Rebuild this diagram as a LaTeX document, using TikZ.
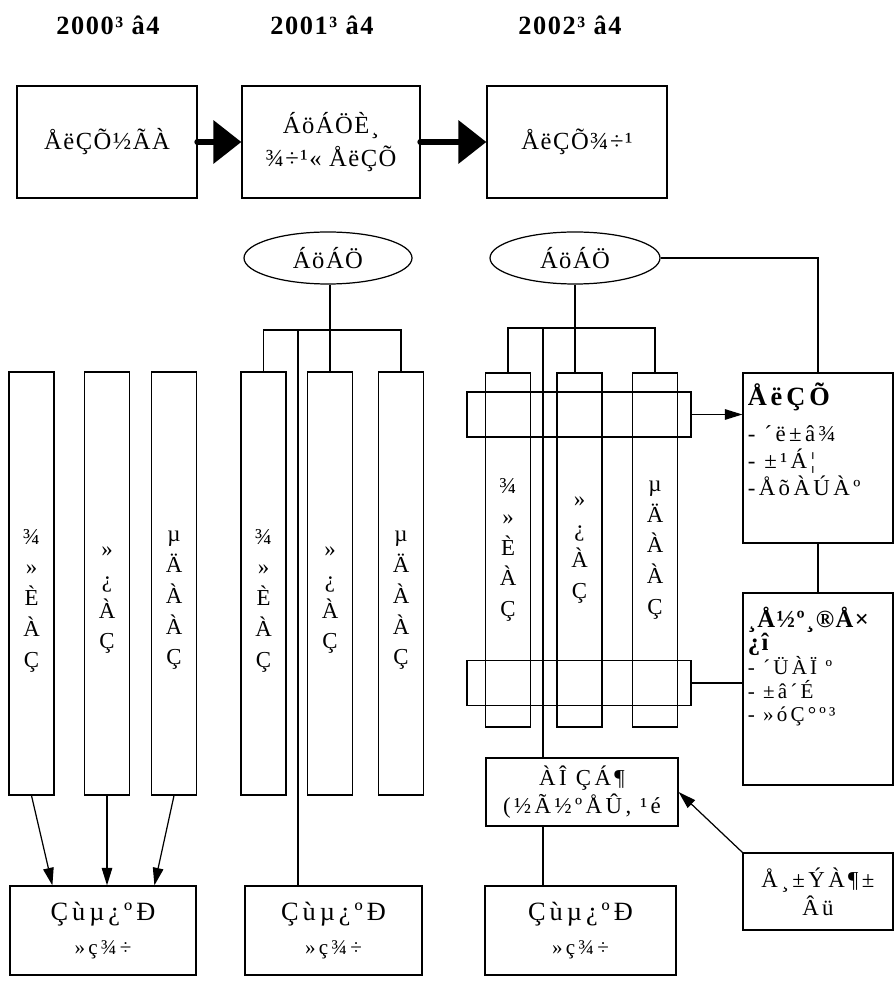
\documentclass[tikz,border=0pt]{standalone}
\usepackage{fontspec}
\setmainfont{Liberation Serif}[LetterSpace=6]
\usetikzlibrary{shapes.geometric, arrows.meta, positioning, calc}
\newcommand{\widesp}{\addfontfeature{LetterSpace=15}}
\tikzset{
  boxed/.style 2 args={draw, rectangle, line width=0.7pt, inner sep=0pt, align=center, minimum width=#1*0.02cm, minimum height=#2*0.02cm},
  stepnode/.style={boxed={180}{112}, font=\fontsize{14}{19}\selectfont},
  colbox/.style={boxed={45}{423}},
  rcolbox/.style={boxed={45}{354}},
  bandbox/.style={boxed={224}{45}},
  sidebox/.style={boxed={150}{#1}},
  coopbox/.style={boxed={#1}{89}, font=\fontsize{15}{19}\selectfont\widesp},
  coltext/.style={align=center, font=\fontsize{13}{17.5}\selectfont},
  sidetext/.style={anchor=north west, align=left, inner sep=0pt},
  corpnode/.style={ellipse, draw, line width=0.7pt, inner sep=0pt, minimum width=168*0.02cm, minimum height=52*0.02cm, font=\fontsize{14}{15}\selectfont},
  yrnode/.style={font=\bfseries\fontsize{15}{17}\selectfont},
  link/.style={line width=0.7pt},
  tarrow/.style={link, -{Triangle[length=10pt,width=6pt]}},
  bigarrow/.style={line width=3.8pt, line cap=round, -{Triangle[length=16pt,width=24pt]}},
}

\begin{document}
\begin{tikzpicture}[x=0.02cm, y=-0.02cm, every node/.style={font=\fontsize{12}{15}\selectfont}]
  \useasboundingbox (0,0) rectangle (894,982);

  % years
  \node[yrnode] (y0) at (108,25) {2000³ â4};
  \node[yrnode] (y1) at (322,25) {2001³ â4};
  \node[yrnode] (y2) at (570,25) {2002³ â4};

  % steps
  \node[stepnode] (s0) at (107,142) {ÅëÇÕ½ÃÀ};
  \node[stepnode, minimum width=178*0.02cm] (s1) at (331,142) {ÁöÁÖÈ¸\\¾÷¹« ÅëÇÕ};
  \node[stepnode] (s2) at (577,142) {ÅëÇÕ¾÷¹};
  \draw[bigarrow] (s0.east) -- (s1.west);
  \draw[bigarrow] (s1.east) -- (s2.west);

  % 2000 columns
  \node[colbox] (la) at (31.5,583.5) {};
  \node[colbox] (lb) at (107,583.5) {};
  \node[colbox] (lc) at (174,583.5) {};
  \node[coltext] (la-t) at ($(la)+(0,17)$) {¾\\»\\È\\À\\Ç};
  \node[coltext] (lb-t) at ($(lb)+(0,17)$) {»\\¿\\À\\Ç};
  \node[coltext] (lc-t) at ($(lc)+(0,17)$) {µ\\Ä\\À\\À\\Ç};

  % 2001 holding
  \node[corpnode] (e1) at (328,258) {ÁöÁÖ};
  \node[colbox] (ma) at (263.5,583.5) {};
  \node[colbox] (mb) at (330,583.5) {};
  \node[colbox] (mc) at (401,583.5) {};
  \node[coltext] (ma-t) at ($(ma)+(0,17)$) {¾\\»\\È\\À\\Ç};
  \node[coltext] (mb-t) at ($(mb)+(0,17)$) {»\\¿\\À\\Ç};
  \node[coltext] (mc-t) at ($(mc)+(0,17)$) {µ\\Ä\\À\\À\\Ç};
  \coordinate (mbl) at (263.5,330);
  \coordinate (mbr) at (401,330);
  \coordinate (mlong) at (298,330);
  \draw[link] (ma.north) -- (mbl) -- (mbr) -- (mc.north);
  \draw[link] (mb.north) -- (mb.north |- e1.south);

  % 2002 holding
  \node[corpnode, minimum width=170*0.02cm] (e2) at (575,258) {ÁöÁÖ};
  \node[rcolbox] (ra) at (508,550) {};
  \node[rcolbox] (rb) at (579.5,550) {};
  \node[rcolbox] (rc) at (655,550) {};
  \node[coltext] (ra-t) at (ra) {¾\\»\\È\\À\\Ç};
  \node[coltext] (rb-t) at (rb) {»\\¿\\À\\Ç};
  \node[coltext] (rc-t) at (rc) {µ\\Ä\\À\\À\\Ç};
  \coordinate (rbl) at (508,328);
  \coordinate (rbr) at (655,328);
  \coordinate (rlong) at (543,328);
  \draw[link] (ra.north) -- (rbl) -- (rbr) -- (rc.north);
  \draw[link] (e2.south) -- (e2.south |- rb.north);
  \node[bandbox] (o1) at (579,414.5) {};
  \node[bandbox] (o2) at (579,683) {};

  % side boxes
  \node[sidebox=170] (rb1) at (818,458) {};
  \node[sidetext, font=\fontsize{13}{15.5}\selectfont\widesp] (rb1-t) at ($(rb1.north west)+(5,10)$)
    {{\fontsize{15}{17}\selectfont\bfseries ÅëÇÕ}\\[5pt]- ´ë±â¾\\- ±¹Á¦\\-ÅõÀÚÀº};
  \node[sidebox=192] (rb2) at (818,689) {};
  \node[sidetext, font=\fontsize{12}{13.5}\selectfont] (rb2-t) at ($(rb2.north west)+(5,14)$)
    {{\fontsize{14}{13.5}\selectfont\bfseries ¸Å½º¸®Å×}\\{\fontsize{14}{13.5}\selectfont\bfseries ¿î}\\{\widesp - ´ÜÀÏ º}\\{\widesp - ±â´É}\\{\widesp - »óÇ°º³}};
  \node[boxed={192}{68}, font=\fontsize{13}{16}\selectfont\widesp] (mid) at (582,792) {ÀÎ ÇÁ¶\\(½Ã½ºÅÛ, ¹é};
  \node[sidebox=77, font=\fontsize{13}{16}\selectfont\widesp] (rb3) at (818,891.5) {Å¸±ÝÀ¶±\\Âü};

  \draw[link] (e2.east) -| (rb1.north);
  \draw[link] (rb1.south) -- (rb2.north);
  \draw[tarrow] (o1.east) -- (o1.east -| rb1.west);
  \draw[link] (o2.east) -- (o2.east -| rb2.west);
  \draw[link] (rlong) -- (rlong |- mid.north);
  \draw[tarrow] (rb3.north west) -- (mid.east);

  % cooperation boxes
  \node[coopbox=186] (bb1) at (103,930.5) {Çùµ¿ºÐ\\{\fontsize{12}{15}\selectfont »ç¾÷}};
  \node[coopbox=177] (bb2) at (333.5,930.5) {Çùµ¿ºÐ\\{\fontsize{12}{15}\selectfont »ç¾÷}};
  \node[coopbox=191] (bb3) at (580.5,930.5) {Çùµ¿ºÐ\\{\fontsize{12}{15}\selectfont »ç¾÷}};
  \draw[tarrow] (la.south) -- ($(bb1.north west)+(43,0)$);
  \draw[tarrow] (lb.south) -- (lb.south |- bb1.north);
  \draw[tarrow] (lc.south) -- ($(bb1.north west)+(145,0)$);
  \draw[link] (mlong) -- (mlong |- bb2.north);
  \draw[link] (mid.south -| rlong) -- (rlong |- bb3.north);
\end{tikzpicture}
\end{document}
